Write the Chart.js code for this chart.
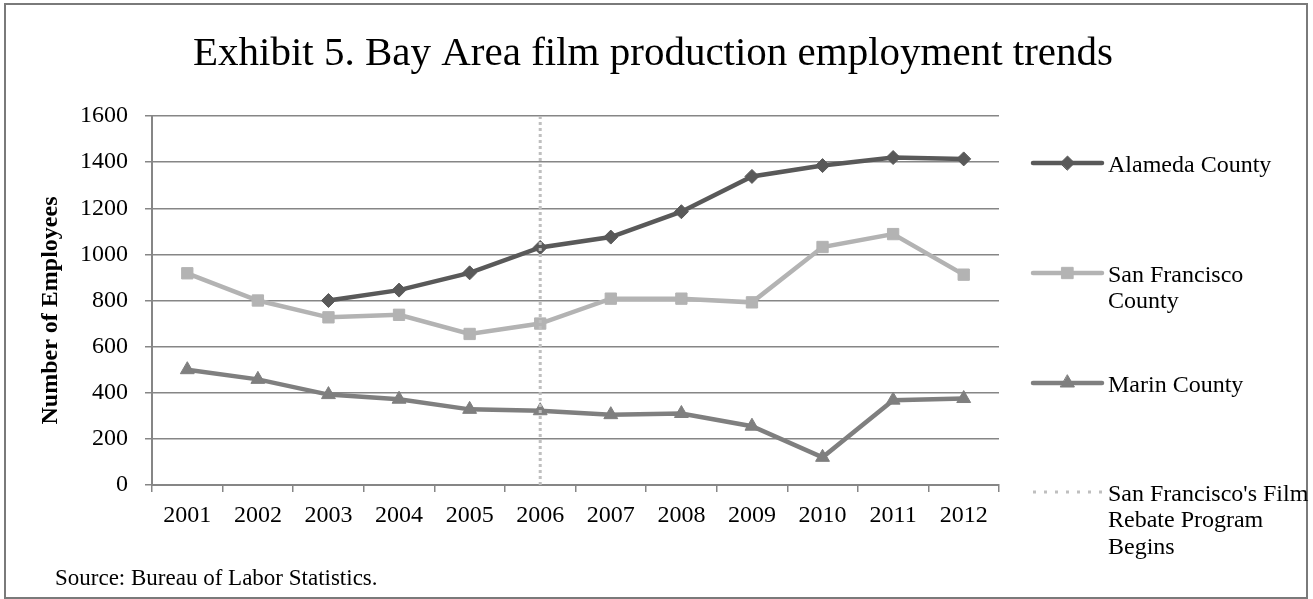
<!DOCTYPE html>
<html>
<head>
<meta charset="utf-8">
<title>Exhibit 5. Bay Area film production employment trends</title>
<script src="https://cdn.jsdelivr.net/npm/chart.js@4.4.1/dist/chart.umd.min.js"></script>
<style>
  html, body { margin: 0; padding: 0; background: #fff; }
  canvas { display: block; }
</style>
</head>
<body>
<canvas id="grafico" width="1313" height="599"></canvas>
<script>
// datos
const years = ['2001', '2002', '2003', '2004', '2005', '2006', '2007', '2008', '2009', '2010', '2011', '2012'];
const alameda = [null, null, 800, 845, 920, 1030, 1075, 1185, 1338, 1385, 1420, 1414];
const sanFrancisco = [918, 800, 727, 738, 655, 700, 808, 808, 792, 1032, 1088, 912];
const marin = [500, 458, 392, 372, 328, 322, 305, 310, 255, 120, 368, 375];
const yTicks = [0, 200, 400, 600, 800, 1000, 1200, 1400, 1600];
const rebateYear = '2006';

const titulo = 'Exhibit 5. Bay Area film production employment trends';
const tituloEje = 'Number of Employees';
const fuente = 'Source: Bureau of Labor Statistics.';

const SERIF = "'Liberation Serif', 'Times New Roman', serif";
const GRID = '#868686';
const DOT = '#bfbfbf';

Chart.defaults.font.family = SERIF;
Chart.defaults.color = '#000';

const leyenda = [
  { lines: ['Alameda County'], color: '#595959', style: 'rectRot', radius: 7, y: 163 },
  { lines: ['San Francisco', 'County'], color: '#b3b3b3', style: 'rect', radius: 8, y: 273 },
  { lines: ['Marin County'], color: '#7f7f7f', style: 'triangle', radius: 8, y: 383 },
  { lines: ["San Francisco's Film", 'Rebate Program', 'Begins'], color: DOT, dotted: true, y: 492 }
];

// textos, linea del programa, leyenda y marco
const extras = {
  id: 'extras',
  afterDatasetsDraw(chart) {
    const ctx = chart.ctx;
    const area = chart.chartArea;
    const x = chart.scales.x.getPixelForValue(years.indexOf(rebateYear));
    ctx.save();
    ctx.strokeStyle = DOT;
    ctx.lineWidth = 3;
    ctx.setLineDash([3, 3]);
    ctx.beginPath();
    ctx.moveTo(x, area.top);
    ctx.lineTo(x, area.bottom);
    ctx.stroke();
    ctx.restore();
  },
  afterDraw(chart) {
    const ctx = chart.ctx;
    const area = chart.chartArea;
    ctx.save();

    // marco
    ctx.strokeStyle = '#7a7a7a';
    ctx.lineWidth = 2;
    ctx.strokeRect(5, 4, 1302, 594);

    ctx.fillStyle = '#000';
    ctx.textBaseline = 'alphabetic';

    // titulo
    ctx.font = '41px ' + SERIF;
    ctx.textAlign = 'center';
    ctx.fillText(titulo, 653, 65);

    // titulo del eje y
    ctx.save();
    ctx.translate(51, (area.top + area.bottom) / 2 + 10);
    ctx.rotate(-Math.PI / 2);
    ctx.font = 'bold 24px ' + SERIF;
    ctx.textBaseline = 'middle';
    ctx.fillText(tituloEje, 0, 0);
    ctx.restore();

    // fuente
    ctx.font = '23px ' + SERIF;
    ctx.textAlign = 'left';
    ctx.fillText(fuente, 55, 585);

    // leyenda
    const x0 = 1033, x1 = 1102;
    leyenda.forEach(item => {
      ctx.save();
      ctx.strokeStyle = item.color;
      ctx.fillStyle = item.color;
      if (item.dotted) {
        ctx.lineWidth = 3;
        ctx.setLineDash([3, 8]);
      } else {
        ctx.lineWidth = 4.5;
        ctx.lineCap = 'round';
      }
      ctx.beginPath();
      ctx.moveTo(x0, item.y);
      ctx.lineTo(x1, item.y);
      ctx.stroke();
      if (!item.dotted) {
        ctx.setLineDash([]);
        ctx.lineWidth = 1;
        Chart.helpers.drawPoint(ctx, {
          pointStyle: item.style, radius: item.radius, rotation: 0, borderWidth: 1
        }, (x0 + x1) / 2, item.y);
      }
      ctx.restore();
      ctx.font = '24px ' + SERIF;
      ctx.fillStyle = '#000';
      item.lines.forEach((t, i) => ctx.fillText(t, 1108, item.y + 8.5 + i * 26.5));
    });

    ctx.restore();
  }
};

function serie(label, data, color, style, radius) {
  return {
    label: label,
    data: data,
    borderColor: color,
    backgroundColor: color,
    borderWidth: 4.5,
    pointStyle: style,
    pointRadius: radius,
    pointHoverRadius: radius,
    pointBackgroundColor: color,
    pointBorderColor: color,
    pointBorderWidth: 1,
    tension: 0,
    spanGaps: false
  };
}

const ctx = document.getElementById('grafico').getContext('2d');
const myChart = new Chart(ctx, {
  type: 'line',
  data: {
    labels: years,
    datasets: [
      serie('Marin County', marin, '#7f7f7f', 'triangle', 8),
      serie('San Francisco County', sanFrancisco, '#b3b3b3', 'rect', 8),
      serie('Alameda County', alameda, '#595959', 'rectRot', 7)
    ]
  },
  options: {
    responsive: false,
    animation: false,
    layout: { padding: { top: 116, left: 0, right: 314, bottom: 0 } },
    plugins: {
      legend: { display: false },
      title: { display: false },
      tooltip: { enabled: false }
    },
    scales: {
      x: {
        offset: true,
        grid: {
          offset: true,
          drawOnChartArea: false,
          drawTicks: true,
          tickLength: 7,
          color: GRID,
          lineWidth: 1.5
        },
        border: { display: true, color: GRID, width: 2 },
        ticks: { font: { size: 24 }, color: '#000', padding: 9, maxRotation: 0, autoSkip: false },
        afterFit(scale) { scale.height = 114; }
      },
      y: {
        min: 0,
        max: 1600,
        afterBuildTicks(scale) { scale.ticks = yTicks.map(v => ({ value: v })); },
        grid: { color: GRID, lineWidth: 1.5, tickLength: 7, drawTicks: true },
        border: { display: true, color: GRID, width: 2 },
        ticks: { font: { size: 24 }, color: '#000', padding: 17, callback: v => String(v) },
        afterFit(scale) { scale.width = 152; }
      }
    }
  },
  plugins: [extras]
});
</script>
</body>
</html>
